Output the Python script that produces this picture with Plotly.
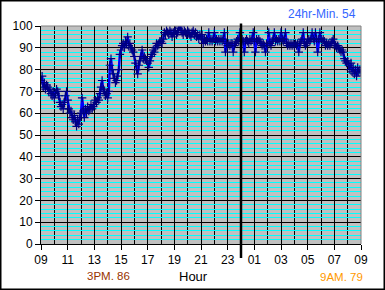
import plotly.graph_objects as go

# Readings every 5 minutes, starting 09:00, one list per clock hour
start_hour = 9
step_minutes = 5
h09 = [75, 77, 72, 74, 71, 73, 72, 70, 71, 69, 68, 70]
h10 = [67, 69, 71, 70, 68, 65, 63, 64, 62, 65, 68, 70]
h11 = [66, 62, 60, 61, 58, 57, 59, 56, 54, 57, 55, 58]
h12 = [60, 67, 61, 58, 62, 60, 63, 61, 62, 64, 62, 63]
h13 = [64, 66, 65, 67, 66, 69, 72, 75, 71, 70, 68, 69]
h14 = [67, 70, 82, 85, 80, 78, 76, 74, 75, 77, 80, 87]
h15 = [89, 91, 92, 90, 93, 92, 95, 91, 92, 90, 89, 88]
h16 = [86, 83, 80, 78, 82, 84, 86, 89, 85, 86, 85, 84]
h17 = [83, 81, 84, 86, 87, 89, 88, 90, 92, 91, 92, 93]
h18 = [93, 92, 94, 97, 96, 98, 97, 96, 98, 97, 95, 97]
h19 = [97, 98, 96, 97, 99, 100, 98, 97, 96, 98, 97, 96]
h20 = [98, 97, 96, 95, 97, 98, 96, 97, 95, 96, 94, 96]
h21 = [95, 96, 92, 94, 93, 94, 93, 97, 93, 94, 93, 94]
h22 = [97, 93, 94, 93, 94, 93, 94, 93, 94, 97, 88, 92]
h23 = [91, 92, 91, 92, 92, 88, 91, 92, 93, 94, 93, 97]
h00 = [93, 94, 93, 88, 93, 94, 93, 92, 94, 93, 94, 97]
h01 = [93, 88, 94, 93, 94, 93, 92, 91, 92, 91, 88, 92]
h02 = [91, 97, 92, 91, 93, 94, 97, 93, 94, 93, 94, 93]
h03 = [97, 94, 93, 94, 97, 92, 91, 92, 91, 92, 91, 92]
h04 = [91, 92, 91, 92, 88, 92, 93, 94, 97, 92, 91, 92]
h05 = [93, 94, 93, 94, 97, 94, 93, 97, 94, 88, 94, 97]
h06 = [94, 93, 94, 93, 91, 92, 91, 92, 91, 92, 93, 94]
h07 = [92, 91, 90, 91, 90, 89, 88, 89, 88, 85, 84, 83]
h08 = [84, 82, 80, 83, 79, 81, 78, 80, 77, 81, 79, 80]
final = [79]

values = (h09 + h10 + h11 + h12 + h13 + h14 + h15 + h16 + h17 + h18 + h19 + h20 +
          h21 + h22 + h23 + h00 + h01 + h02 + h03 + h04 + h05 + h06 + h07 + h08 + final)
hours = [start_hour + i * step_minutes / 60 for i in range(len(values))]

tick_vals = list(range(9, 34, 2))
tick_text = ["09", "11", "13", "15", "17", "19", "21", "23", "01", "03", "05", "07", "09"]
y_ticks = list(range(0, 101, 10))

FONT = "Liberation Sans, Arial, sans-serif"

fig = go.Figure()
fig.add_trace(go.Scatter(
    x=hours, y=values, mode="lines+markers",
    line=dict(color="#0000FF", width=2.5),
    marker=dict(symbol="cross-thin-open", size=6, color="#000080",
                line=dict(color="#000080", width=1.2)),
    hoverinfo="skip", showlegend=False,
))

L, R, T, B = 41, 24, 26, 46
W, H = 385, 290
pw, ph = W - L - R, H - T - B

def px(xp):
    return (xp - L) / pw

def py(yp):
    return (H - B - yp) / ph

shapes = [
    dict(type="line", xref="paper", yref="paper", x0=0, x1=1, y0=1, y1=1,
         line=dict(color="#808080", width=1), layer="above"),
    dict(type="line", xref="paper", yref="paper", x0=1, x1=1, y0=0, y1=1,
         line=dict(color="#808080", width=1), layer="above"),
    dict(type="line", xref="paper", yref="paper", x0=15 / 24, x1=15 / 24,
         y0=py(258), y1=py(23.5), line=dict(color="black", width=2.5), layer="above"),
    dict(type="rect", xref="paper", yref="paper", x0=px(0.75), x1=px(384.25),
         y0=py(289.25), y1=py(0.75), line=dict(color="black", width=1.5), layer="above"),
]

annotations = [
    dict(text="24hr-Min. 54", xref="paper", yref="paper", x=px(358), y=py(14),
         xanchor="right", yanchor="middle", showarrow=False,
         font=dict(family=FONT, size=12, color="#3366FF")),
    dict(text="3PM. 86", xref="paper", yref="paper", x=px(108), y=py(276),
         xanchor="center", yanchor="middle", showarrow=False,
         font=dict(family=FONT, size=11.5, color="#993300")),
    dict(text="Hour", xref="paper", yref="paper", x=px(193), y=py(276),
         xanchor="center", yanchor="middle", showarrow=False,
         font=dict(family=FONT, size=13, color="black")),
    dict(text="9AM. 79", xref="paper", yref="paper", x=px(365), y=py(277),
         xanchor="right", yanchor="middle", showarrow=False,
         font=dict(family=FONT, size=11.5, color="#FF9900")),
]

fig.update_layout(
    width=W, height=H,
    margin=dict(l=L, r=R, t=T, b=B, pad=0),
    paper_bgcolor="white", plot_bgcolor="#C0C0C0",
    font=dict(family=FONT, size=12, color="black"),
    shapes=shapes, annotations=annotations,
    xaxis=dict(range=[9, 33], tickmode="array", tickvals=tick_vals, ticktext=tick_text,
               showgrid=True, gridcolor="black", gridwidth=1,
               ticks="outside", ticklen=5, tickcolor="black", tickwidth=1,
               showline=True, linecolor="black", linewidth=1, zeroline=False,
               minor=dict(tickmode="linear", tick0=9, dtick=1, showgrid=True,
                          gridcolor="black", gridwidth=1, ticks=""),
               tickfont=dict(family=FONT, size=12, color="black"), fixedrange=True),
    yaxis=dict(range=[0, 100], tickmode="array", tickvals=y_ticks,
               showgrid=True, gridcolor="black", gridwidth=1,
               ticks="outside", ticklen=5, tickcolor="black", tickwidth=1,
               showline=True, linecolor="black", linewidth=1, zeroline=False,
               minor=dict(tickmode="linear", tick0=0, dtick=2, showgrid=True,
                          gridcolor="#00FFFF", gridwidth=1, ticks=""),
               tickfont=dict(family=FONT, size=12, color="black"), fixedrange=True),
)

fig.write_html("out.html", config={"displayModeBar": False})
